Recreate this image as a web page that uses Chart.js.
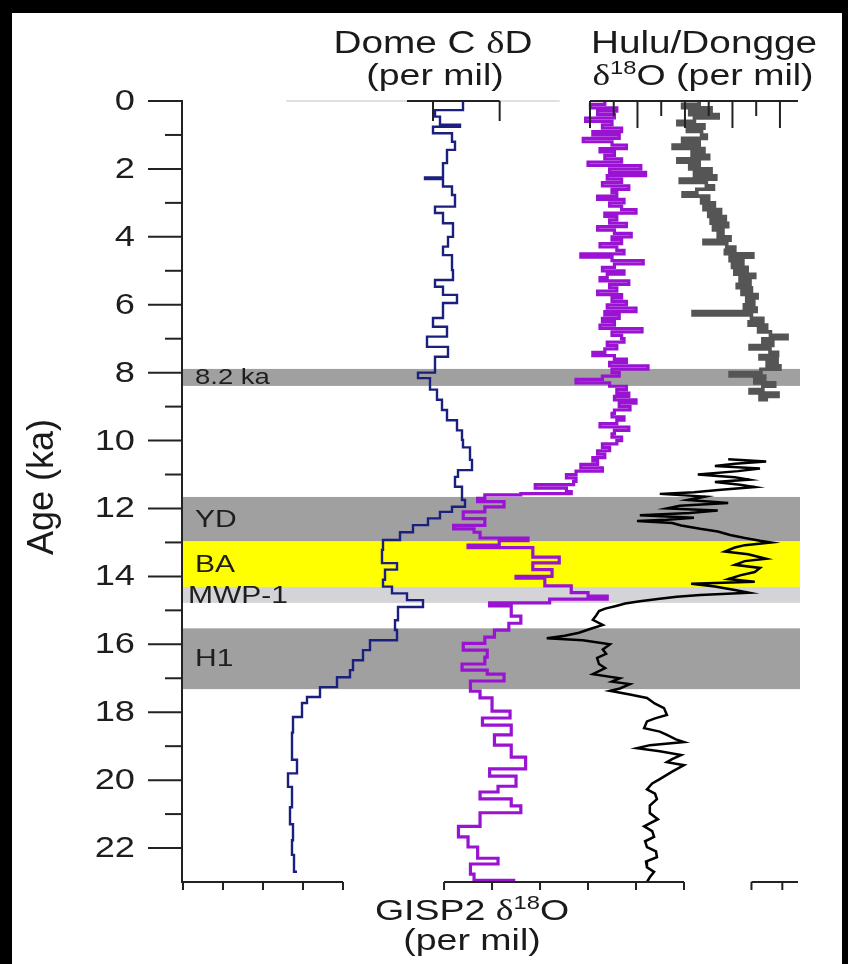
<!DOCTYPE html>
<html>
<head>
<meta charset="utf-8">
<script src="https://cdn.jsdelivr.net/npm/chart.js@4.4.1/dist/chart.umd.min.js"></script>
<style>
  html, body { margin: 0; padding: 0; background: #000; }
  canvas { display: block; }
</style>
</head>
<body>
<canvas id="chart" width="848" height="964"></canvas>
<script>
// --- Dome C deltaD (per mil), stepped record ---
const domeAge = [0, 0.27, 0.46, 0.7, 0.76, 0.95, 1.2, 1.44, 1.83, 2.25, 2.3, 2.52, 2.77, 3.11, 3.3, 3.6, 4.0, 4.29, 4.54, 4.98,
  5.27, 5.47, 5.71, 5.95, 6.39, 6.65, 6.94, 7.24, 7.53, 8.0, 8.16, 8.5, 8.8, 9.1, 9.4, 9.7, 9.98, 10.2, 10.57, 10.87,
  11.07, 11.36, 11.75, 11.95, 12.1, 12.29, 12.49, 12.7, 12.93, 13.22, 13.61, 13.8, 14.1, 14.3, 14.5, 14.7, 14.9, 15.29, 15.58, 15.88,
  16.17, 16.47, 16.76, 16.97, 17.26, 17.55, 17.73, 18.14, 18.6, 19.4, 19.8, 20.2, 20.8, 21.3, 21.77, 22.2, 22.7];
const domeDD = [-401.0, -409.4, -407.9, -401.9, -410.0, -404.3, -403.4, -405.8, -407.0, -412.4, -407.0, -404.3, -403.4, -409.4, -407.0, -404.0, -405.5, -407.0, -404.3, -404.0,
  -409.4, -407.0, -402.8, -407.0, -410.0, -405.8, -411.8, -405.5, -409.4, -414.5, -410.9, -408.8, -407.3, -405.8, -402.8, -401.3, -401.0, -398.9, -398.3, -402.5,
  -403.4, -401.3, -400.4, -404.3, -407.9, -411.5, -416.0, -419.9, -425.0, -425.3, -420.8, -424.4, -425.0, -422.3, -417.8, -413.0, -420.5, -421.4, -420.8, -428.9,
  -431.0, -434.0, -434.9, -438.8, -443.9, -447.8, -449.3, -452.0, -452.3, -450.8, -453.5, -452.3, -452.9, -452.0, -452.3, -451.7, -450.8];

// --- GISP2 delta18O (per mil) ---
const gispAge = [
  0.0, 0.1, 0.2, 0.3, 0.4, 0.5, 0.6, 0.7, 0.8, 0.9,
  1.0, 1.1, 1.2, 1.3, 1.4, 1.5, 1.6, 1.7, 1.8, 1.9,
  2.0, 2.1, 2.2, 2.3, 2.4, 2.5, 2.6, 2.7, 2.8, 2.9,
  3.0, 3.1, 3.2, 3.3, 3.4, 3.5, 3.6, 3.7, 3.8, 3.9,
  4.0, 4.1, 4.2, 4.3, 4.4, 4.5, 4.6, 4.7, 4.8, 4.9,
  5.0, 5.1, 5.2, 5.3, 5.4, 5.5, 5.6, 5.7, 5.8, 5.9,
  6.0, 6.1, 6.2, 6.3, 6.4, 6.5, 6.6, 6.7, 6.8, 6.9,
  7.0, 7.1, 7.2, 7.3, 7.4, 7.5, 7.6, 7.7, 7.8, 7.9,
  8.0, 8.1, 8.2, 8.3, 8.4, 8.5, 8.6, 8.7, 8.8, 8.9,
  9.0, 9.1, 9.2, 9.3, 9.4, 9.5, 9.6, 9.7, 9.8, 9.9,
  10.0, 10.1, 10.2, 10.3, 10.4, 10.5, 10.6, 10.7, 10.8, 10.9,
  11.0, 11.1, 11.2, 11.3, 11.4, 11.5, 11.56, 11.60,
  11.70, 11.80, 11.95, 12.10, 12.30, 12.50, 12.60, 12.70, 12.87, 12.95, 13.08, 13.15, 13.43, 13.60, 13.80, 14.00, 14.05, 14.28, 14.48, 14.58,
  14.67, 14.78, 14.87, 15.17, 15.38, 15.58, 15.79, 15.97, 16.17, 16.38, 16.58, 16.76, 16.88, 17.08, 17.38, 17.58, 17.97, 18.17, 18.38, 18.67,
  18.97, 19.32, 19.67, 19.88, 20.18, 20.35, 20.55, 20.76, 20.96, 21.36, 21.67, 21.97, 22.30, 22.47, 22.77, 22.95, 23.00];
const gispD18O = [
  -35.3, -35.9, -34.8, -35.6, -34.9, -36.1, -35.0, -35.4, -34.6, -35.8,
  -34.7, -36.2, -35.0, -34.4, -35.5, -34.9, -35.3, -34.6, -36.0, -33.8,
  -35.1, -33.6, -35.2, -34.6, -35.4, -34.3, -35.0, -34.8, -35.6, -34.5,
  -35.1, -34.6, -34.0, -35.3, -34.8, -35.1, -34.4, -35.6, -34.9, -34.2,
  -35.0, -34.6, -35.5, -34.8, -34.5, -36.3, -35.0, -33.7, -34.9, -35.4,
  -34.5, -35.2, -35.5, -34.3, -35.1, -34.8, -35.6, -34.6, -35.0, -34.4,
  -35.2, -34.0, -35.3, -34.7, -35.4, -34.9, -35.5, -33.75, -35.0, -34.6,
  -34.5, -35.2, -34.8, -35.3, -35.8, -34.9, -34.4, -35.1, -33.5, -35.0,
  -34.7, -35.4, -36.5, -35.1, -34.4, -34.8, -34.3, -34.9, -34.0, -34.7,
  -34.25, -34.9, -35.0, -34.5, -34.8, -35.5, -34.3, -34.9, -35.0, -34.6,
  -34.8, -35.4, -35.1, -35.6, -35.3, -35.8, -35.6, -36.3, -35.4, -36.5,
  -36.9, -36.5, -36.6, -38.2, -36.9, -36.7, -38.8, -40.3,
  -40.6, -39.5, -40.3, -41.2, -40.3, -41.6, -40.75, -40.5, -38.5, -39.7, -41.0, -38.3, -37.2, -38.3, -37.5, -39.0, -37.8, -36.7, -36.0, -35.2,
  -37.6, -40.1, -39.2, -38.8, -39.3, -39.9, -40.3, -41.2, -40.2, -40.3, -41.25, -40.2, -39.5, -40.9, -40.5, -40.0, -39.25, -40.4, -39.2, -39.9,
  -39.2, -38.6, -40.1, -39.0, -39.75, -40.5, -39.2, -38.8, -40.5, -41.4, -41.0, -40.6, -39.75, -40.9, -40.75, -39.1, -40.3];

// --- Dongge delta18O (per mil), Holocene ---
const dongAge = [
  0.0, 0.1, 0.2, 0.3, 0.4, 0.5, 0.6, 0.7, 0.8, 0.9,
  1.0, 1.1, 1.2, 1.3, 1.4, 1.5, 1.6, 1.7, 1.8, 1.9,
  2.0, 2.1, 2.2, 2.3, 2.4, 2.5, 2.6, 2.7, 2.8, 2.9,
  3.0, 3.1, 3.2, 3.3, 3.4, 3.5, 3.6, 3.7, 3.8, 3.9,
  4.0, 4.1, 4.2, 4.3, 4.4, 4.5, 4.6, 4.7, 4.8, 4.9,
  5.0, 5.1, 5.2, 5.3, 5.4, 5.5, 5.6, 5.7, 5.8, 5.9,
  6.0, 6.1, 6.2, 6.3, 6.4, 6.5, 6.6, 6.7, 6.8, 6.9,
  7.0, 7.1, 7.2, 7.3, 7.4, 7.5, 7.6, 7.7, 7.8, 7.9,
  8.0, 8.1, 8.2, 8.3, 8.4, 8.5, 8.6, 8.7, 8.8];
const dongD18O = [
  -7.30, -6.95, -7.55, -7.10, -7.70, -7.20, -6.85, -7.40, -7.05, -7.35,
  -7.45, -6.95, -7.30, -6.75, -7.40, -7.15, -7.50, -6.85, -7.30, -7.10,
  -7.55, -7.20, -7.65, -6.90, -7.45, -7.60, -7.25, -6.96, -7.50, -7.35,
  -7.62, -7.40, -7.75, -7.50, -7.85, -7.55, -7.90, -7.60, -7.80, -7.70,
  -7.95, -7.40, -7.88, -8.05, -7.85, -8.43, -7.95, -8.22, -8.00, -8.31,
  -8.05, -8.47, -8.16, -8.37, -8.10, -8.40, -8.20, -8.52, -8.30, -8.45,
  -8.25, -8.50, -7.17, -8.40, -8.64, -8.35, -8.72, -8.55, -8.80, -9.15,
  -8.64, -8.85, -8.37, -8.79, -8.95, -8.58, -8.94, -8.73, -9.00, -8.60,
  -7.95, -8.68, -8.47, -8.89, -8.64, -8.37, -8.96, -8.58, -8.75];

// --- Hulu delta18O (per mil), deglaciation ---
const huluAge = [10.55, 10.62, 10.68, 10.75, 10.82, 10.90, 11.00, 11.08, 11.15, 11.22, 11.30, 11.37, 11.45, 11.52, 11.57, 11.65, 11.75, 11.84, 11.92, 12.00,
  12.06, 12.13, 12.20, 12.27, 12.33, 12.37, 12.43, 12.50, 12.60, 12.68, 12.78, 12.87, 12.95, 13.00, 13.08, 13.15, 13.27, 13.35, 13.48, 13.55,
  13.66, 13.75, 13.87, 13.97, 14.08, 14.16, 14.22, 14.30, 14.40, 14.48, 14.55, 14.60, 14.66, 14.73, 14.80, 14.87, 14.95, 15.02, 15.15, 15.28,
  15.43, 15.55, 15.66, 15.75, 15.82, 15.88, 16.00, 16.15, 16.28, 16.40, 16.58, 16.70, 16.88, 17.00, 17.10, 17.17, 17.30, 17.37, 17.48, 17.58,
  17.75, 17.88, 18.08, 18.18, 18.27, 18.47, 18.57, 18.67, 18.80, 18.88, 18.97, 19.06, 19.15, 19.26, 19.38, 19.47, 19.56, 19.75, 19.97, 20.10,
  20.27, 20.40, 20.56, 20.75, 20.97, 21.15, 21.36, 21.50, 21.67, 21.80, 21.97, 22.10, 22.27, 22.40, 22.57, 22.70, 22.86, 23.00];
const huluD18O = [-7.91, -8.71, -8.05, -7.63, -8.58, -8.12, -7.27, -8.05, -8.35, -7.63, -8.16, -8.47, -7.76, -7.19, -6.47, -7.42, -7.06, -7.91, -6.89, -6.62,
  -7.69, -7.1, -6.05, -7.19, -6.62, -5.99, -6.73, -6.92, -7.32, -7.69, -7.95, -8.26, -8.58, -8.81, -8.26, -8.05, -7.84, -8.33, -8.71, -8.26,
  -8.05, -8.58, -8.47, -8.16, -7.91, -8.47, -7.13, -7.63, -8.05, -8.35, -7.32, -6.83, -6.47, -6.05, -5.74, -5.55, -5.32, -5.19, -5.13, -5.06,
  -5.27, -5.0, -4.77, -4.47, -4.09, -4.85, -5.42, -5.27, -5.34, -5.15, -5.19, -5.32, -5.06, -5.63, -5.46, -5.84, -5.63, -5.42, -5.84, -6.2,
  -6.37, -6.56, -6.62, -6.37, -6.2, -6.14, -6.47, -6.62, -6.81, -6.98, -6.26, -5.99, -6.47, -6.92, -6.73, -6.62, -6.98, -6.73, -6.47, -6.31,
  -6.2, -6.37, -6.41, -6.26, -6.26, -6.43, -6.14, -6.31, -6.35, -6.16, -6.2, -6.39, -6.41, -6.18, -6.2, -6.35, -6.26, -6.2];

// --- event bands (ka) ---
const bandLabels = ['8.2 ka', 'YD', 'BA', 'MWP-1', 'H1'];
const bandTop = [7.89, 11.66, 12.97, 14.31, 15.53];
const bandBottom = [8.39, 12.97, 14.31, 14.78, 17.32];
const bandColors = ['#a0a0a0', '#a0a0a0', '#ffff00', '#d4d4d8', '#a0a0a0'];

// --- axis ticks ---
const ageMajorTicks = [0, 2, 4, 6, 8, 10, 12, 14, 16, 18, 20, 22];
const ageMinorTicks = [1, 3, 5, 7, 9, 11, 13, 15, 17, 19, 21];
const huluTopTicks = [-5, -5.5, -6, -6.5, -7, -7.5, -8, -8.5, -9];
const domeTopTicks = [-410, -390];
const domeBottomTicks = [-485, -473, -461, -449, -437];
const gispBottomTicks = [-42, -40, -38, -36, -34, -32];
const huluBottomTicks = [-8.4, -9.05];

const FONT = '"Liberation Sans", Arial, Helvetica, sans-serif';
const SERIF = '"Liberation Serif", "Times New Roman", serif';
const SX = 1.25; // glyphs in the figure are drawn wide

const pts = (ages, vals) => ages.map((a, i) => ({ x: vals[i], y: a }));

function wideText(c, text, x, y, size, align) {
    c.save();
    c.font = size + 'px ' + FONT;
    c.textAlign = align;
    c.translate(x, y);
    c.scale(SX, 1);
    c.fillText(text, 0, 0);
    c.restore();
}

// runs: [{t, sup, serif}], centred on cx
function richText(c, runs, cx, y, size) {
    c.save();
    const fontFor = r => (r.sup ? Math.round(size * 0.62) : size) + 'px ' + (r.serif ? SERIF : FONT);
    let total = 0;
    runs.forEach(r => { c.font = fontFor(r); total += c.measureText(r.t).width; });
    c.translate(cx, y);
    c.scale(SX, 1);
    c.textAlign = 'left';
    let x = -total / 2;
    runs.forEach(r => {
        c.font = fontFor(r);
        c.fillText(r.t, x, r.sup ? -size * 0.36 : 0);
        x += c.measureText(r.t).width;
    });
    c.restore();
}

const framePlugin = {
    id: 'frame',
    beforeDraw(chart) {
        const c = chart.ctx;
        c.save();
        c.fillStyle = '#000';
        c.fillRect(0, 0, chart.width, chart.height);
        c.fillStyle = '#fff';
        c.fillRect(12, 13, 830, 951);
        c.restore();
    }
};

const bandsPlugin = {
    id: 'bands',
    beforeDatasetsDraw(chart) {
        const c = chart.ctx;
        const { left, right } = chart.chartArea;
        const y = chart.scales.y;
        c.save();
        bandLabels.forEach((label, i) => {
            const y1 = y.getPixelForValue(bandTop[i]);
            const y2 = y.getPixelForValue(bandBottom[i]);
            c.fillStyle = bandColors[i];
            c.fillRect(left, y1, right - left + 2, y2 - y1);
        });
        c.fillStyle = '#1e1e1e';
        c.textBaseline = 'middle';
        bandLabels.forEach((label, i) => {
            const ym = (y.getPixelForValue(bandTop[i]) + y.getPixelForValue(bandBottom[i])) / 2 + 1;
            const x = left + (label === 'MWP-1' ? 6 : 13);
            wideText(c, label, x, ym, label === '8.2 ka' ? 22 : 24, 'left');
        });
        c.restore();
    }
};

const axesPlugin = {
    id: 'axes',
    afterDatasetsDraw(chart) {
        const c = chart.ctx;
        const { left, right, top, bottom } = chart.chartArea;
        const { y, xDome, xGisp, xHulu } = chart.scales;
        const line = (x1, y1, x2, y2) => { c.beginPath(); c.moveTo(x1, y1); c.lineTo(x2, y2); c.stroke(); };
        c.save();
        c.strokeStyle = '#222';
        c.lineWidth = 2;
        c.lineCap = 'butt';

        // age axis
        line(left, top - 1, left, bottom + 1);
        ageMajorTicks.forEach(t => line(left - 34, y.getPixelForValue(t), left, y.getPixelForValue(t)));
        ageMinorTicks.forEach(t => line(left - 17, y.getPixelForValue(t), left, y.getPixelForValue(t)));
        c.fillStyle = '#1e1e1e';
        c.textBaseline = 'middle';
        ageMajorTicks.forEach(t => wideText(c, String(t), left - 47, y.getPixelForValue(t) + 1, 29, 'right'));

        // top: Dome C (partly faded) and Hulu/Dongge
        c.save();
        c.strokeStyle = '#d6d6d6';
        c.lineWidth = 1.5;
        line(xDome.getPixelForValue(-454), top, xDome.getPixelForValue(-372), top);
        c.restore();
        line(xDome.getPixelForValue(-417.8), top, xDome.getPixelForValue(-390), top);
        domeTopTicks.forEach(t => line(xDome.getPixelForValue(t), top, xDome.getPixelForValue(t), top + 20));
        line(xHulu.getPixelForValue(-5), top, right, top);
        huluTopTicks.forEach(t => {
            const len = Number.isInteger(t) ? 27 : 15;
            line(xHulu.getPixelForValue(t), top, xHulu.getPixelForValue(t), top + len);
        });

        // bottom segments
        line(left, bottom, xDome.getPixelForValue(-437), bottom);
        domeBottomTicks.forEach(t => line(xDome.getPixelForValue(t), bottom, xDome.getPixelForValue(t), bottom + 8));
        line(xGisp.getPixelForValue(-42), bottom, xGisp.getPixelForValue(-32), bottom);
        gispBottomTicks.forEach(t => line(xGisp.getPixelForValue(t), bottom, xGisp.getPixelForValue(t), bottom + 8));
        line(xHulu.getPixelForValue(-8.4), bottom, right, bottom);
        huluBottomTicks.forEach(t => line(xHulu.getPixelForValue(t), bottom, xHulu.getPixelForValue(t), bottom + 8));

        // titles
        c.textBaseline = 'alphabetic';
        c.fillStyle = '#1a1a1a';
        richText(c, [{ t: 'Dome C ' }, { t: 'δ', serif: true }, { t: 'D' }], 433, 53, 31);
        richText(c, [{ t: '(per mil)' }], 435, 85, 30);
        richText(c, [{ t: 'Hulu/Dongge' }], 704, 53, 31);
        richText(c, [{ t: 'δ', serif: true }, { t: '18', sup: true }, { t: 'O (per mil)' }], 703, 85, 30);
        richText(c, [{ t: 'GISP2 ' }, { t: 'δ', serif: true }, { t: '18', sup: true }, { t: 'O' }], 472, 920, 30);
        richText(c, [{ t: '(per mil)' }], 472, 950, 30);

        c.save();
        c.translate(53, 487);
        c.rotate(-Math.PI / 2);
        c.font = '36px ' + FONT;
        c.textAlign = 'center';
        c.fillText('Age (ka)', 0, 0);
        c.restore();

        c.restore();
    }
};

new Chart(document.getElementById('chart').getContext('2d'), {
    type: 'line',
    data: {
        datasets: [
            { label: 'GISP2 δ18O', data: pts(gispAge, gispD18O), xAxisID: 'xGisp',
              borderColor: '#9a12d2', borderWidth: 3.2, stepped: 'after' },
            { label: 'Dongge δ18O', data: pts(dongAge, dongD18O), xAxisID: 'xHulu',
              borderColor: '#555555', borderWidth: 3.6, stepped: 'after' },
            { label: 'Hulu δ18O', data: pts(huluAge, huluD18O), xAxisID: 'xHulu',
              borderColor: '#000000', borderWidth: 2.5 },
            { label: 'Dome C δD', data: pts(domeAge, domeDD), xAxisID: 'xDome',
              borderColor: '#1b1f7e', borderWidth: 2.4, stepped: 'after' }
        ]
    },
    options: {
        indexAxis: 'y',
        responsive: false,
        animation: false,
        devicePixelRatio: 1,
        layout: { padding: { left: 182, right: 50, top: 101, bottom: 82 } },
        elements: { point: { radius: 0 }, line: { tension: 0, fill: false } },
        scales: {
            y: { type: 'linear', reverse: true, min: 0, max: 23, display: false },
            xDome: { type: 'linear', min: -485.3, max: -300.5, display: false },
            xGisp: { type: 'linear', min: -52.92, max: -27.25, display: false },
            xHulu: { type: 'linear', reverse: true, min: -9.38, max: 3.59, display: false }
        },
        plugins: { legend: { display: false }, tooltip: { enabled: false } }
    },
    plugins: [framePlugin, bandsPlugin, axesPlugin]
});
</script>
</body>
</html>
